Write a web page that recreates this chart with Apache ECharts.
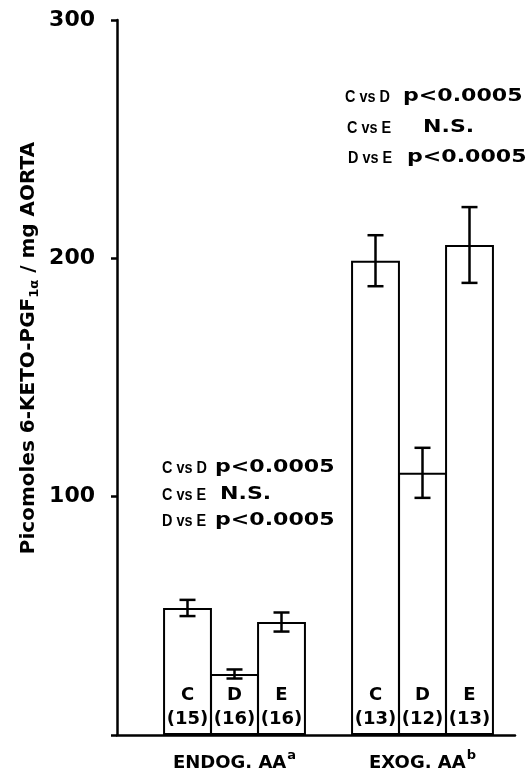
<!DOCTYPE html>
<html>
<head>
<meta charset="utf-8">
<script src="https://cdn.jsdelivr.net/npm/echarts@6/dist/echarts.min.js"></script>
<style>
html,body{margin:0;padding:0;background:#fff;}
#chart{width:529px;height:776px;}
</style>
</head>
<body>
<div id="chart"></div>
<script>
// ---- data ----
const treatments = ['C', 'D', 'E'];
const groupNames = ['ENDOG. AA', 'EXOG. AA'];
const groupSup = ['a', 'b'];
const endogMean = [53.3, 25.6, 47.4];
const endogErr = [3.4, 1.9, 4.0];
const endogN = [15, 16, 16];
const exogMean = [199, 110, 205.6];
const exogErr = [10.7, 10.5, 15.9];
const exogN = [13, 12, 13];
const yTickValues = [100, 200, 300];
const endogStatLeft = ['C vs D', 'C vs E', 'D vs E'];
const endogStatRight = ['p<0.0005', 'N.S.', 'p<0.0005'];
const exogStatLeft = ['C vs D', 'C vs E', 'D vs E'];
const exogStatRight = ['p<0.0005', 'N.S.', 'p<0.0005'];
const yTitleMain = 'Picomoles 6-KETO-PGF';
const yTitleSub = '1α';
const yTitleEnd = ' / mg AORTA';

// ---- build slots (spacer, C, D, E, spacer, C, D, E, spacer) ----
const groupsData = [
  {mean: endogMean, err: endogErr, n: endogN},
  {mean: exogMean, err: exogErr, n: exogN}
];
const slots = [];
const barData = [];
const errData = [];
slots.push('gap0'); barData.push('-');
groupsData.forEach((g, gi) => {
  treatments.forEach((t, ti) => {
    const idx = slots.length;
    slots.push(groupNames[gi] + '|' + t);
    barData.push({value: g.mean[ti], treat: t, n: g.n[ti]});
    errData.push([idx, g.mean[ti], g.err[ti]]);
  });
  slots.push('gap' + (gi + 1)); barData.push('-');
});

const FONT = 'DejaVu Sans';
const chart = echarts.init(document.getElementById('chart'), null, {renderer: 'canvas'});

function statTexts(left, right, lxs, rxs, ys) {
  const out = [];
  left.forEach((s, i) => {
    out.push({type: 'text', x: lxs[i], y: ys[i], scaleX: 0.85,
      style: {text: s, font: 'bold 17px "Liberation Sans"', fill: '#000', verticalAlign: 'middle'}});
    out.push({type: 'text', x: rxs[i], y: ys[i], scaleX: 1.3,
      style: {text: right[i], font: 'bold 17px "DejaVu Sans"', fill: '#000', verticalAlign: 'middle'}});
  });
  return out;
}

const option = {
  backgroundColor: '#fff',
  animation: false,
  grid: [
    {left: 117, right: -11, top: 20, bottom: 41, outerBoundsMode: 'none', containLabel: false},
    {left: 117, right: 14, top: 20, bottom: 41, outerBoundsMode: 'none', containLabel: false}
  ],
  xAxis: [
    {
      type: 'category', gridIndex: 0, data: slots,
      axisLine: {show: false}, axisTick: {show: false},
      axisLabel: {
        interval: 0, margin: 14,
        formatter: function (v) {
          const parts = v.split('|');
          if (parts.length === 2 && parts[1] === 'D') {
            const gi = groupNames.indexOf(parts[0]);
            return '{m|' + parts[0] + '}{s|' + groupSup[gi] + '}';
          }
          return '';
        },
        rich: {
          m: {fontFamily: FONT, fontWeight: 'bold', fontSize: 18, color: '#000', verticalAlign: 'bottom'},
          s: {fontFamily: FONT, fontWeight: 'bold', fontSize: 13, color: '#000', verticalAlign: 'top', padding: [0, 0, 10, 1]}
        }
      }
    },
    {
      type: 'value', gridIndex: 1, min: 0, max: 1,
      axisLine: {show: true, lineStyle: {color: '#000', width: 2.5}},
      axisTick: {show: false}, axisLabel: {show: false}, splitLine: {show: false}
    }
  ],
  yAxis: [
    {
      type: 'value', gridIndex: 0, min: 0, max: 300, interval: 100,
      axisLine: {show: true, lineStyle: {color: '#000', width: 2.5}},
      axisTick: {show: true, length: 6, lineStyle: {color: '#000', width: 2.5}},
      splitLine: {show: false},
      axisLabel: {
        margin: 22, fontFamily: FONT, fontWeight: 'bold', fontSize: 22, color: '#000',
        formatter: function (v) { return yTickValues.indexOf(v) >= 0 ? String(v) : ''; }
      }
    },
    {type: 'value', gridIndex: 1, min: 0, max: 1, show: false}
  ],
  series: [
    {
      type: 'bar', xAxisIndex: 0, yAxisIndex: 0,
      data: barData, barWidth: '104%', barCategoryGap: '0%',
      itemStyle: {color: '#fff', borderColor: '#000', borderWidth: 2},
      label: {
        show: true, position: 'insideBottom', distance: 4,
        formatter: function (p) { return '{t|' + p.data.treat + '}\n{n|(' + p.data.n + ')}'; },
        rich: {
          t: {fontFamily: FONT, fontWeight: 'bold', fontSize: 18, color: '#000', lineHeight: 24, align: 'center'},
          n: {fontFamily: FONT, fontWeight: 'bold', fontSize: 18, color: '#000', lineHeight: 24, align: 'center'}
        }
      },
      z: 2
    },
    {
      type: 'custom', xAxisIndex: 0, yAxisIndex: 0,
      data: errData,
      renderItem: function (params, api) {
        const xi = api.value(0), m = api.value(1), e = api.value(2);
        const hi = api.coord([xi, m + e]);
        const lo = api.coord([xi, m - e]);
        const hw = 8;
        const st = {stroke: '#000', lineWidth: 2.5};
        return {
          type: 'group',
          children: [
            {type: 'line', shape: {x1: hi[0], y1: hi[1], x2: lo[0], y2: lo[1]}, style: st},
            {type: 'line', shape: {x1: hi[0] - hw, y1: hi[1], x2: hi[0] + hw, y2: hi[1]}, style: st},
            {type: 'line', shape: {x1: lo[0] - hw, y1: lo[1], x2: lo[0] + hw, y2: lo[1]}, style: st}
          ]
        };
      },
      z: 3
    }
  ],
  graphic: [
    {
      type: 'text', x: 29, y: 348, rotation: Math.PI / 2,
      style: {
        text: '{a|' + yTitleMain + '}{s|' + yTitleSub + '}{a|' + yTitleEnd + '}',
        align: 'center', verticalAlign: 'middle',
        rich: {
          a: {fontFamily: FONT, fontWeight: 'bold', fontSize: 20, fill: '#000', color: '#000'},
          s: {fontFamily: FONT, fontWeight: 'bold', fontSize: 13, fill: '#000', color: '#000', padding: [12, 0, 0, 0]}
        }
      }
    }
  ].concat(
    statTexts(endogStatLeft, endogStatRight, [162, 162, 162], [215, 220, 215], [468, 495, 521]),
    statTexts(exogStatLeft, exogStatRight, [345, 347, 348], [403, 423, 407], [97, 128, 158])
  )
};
chart.setOption(option);
</script>
</body>
</html>
